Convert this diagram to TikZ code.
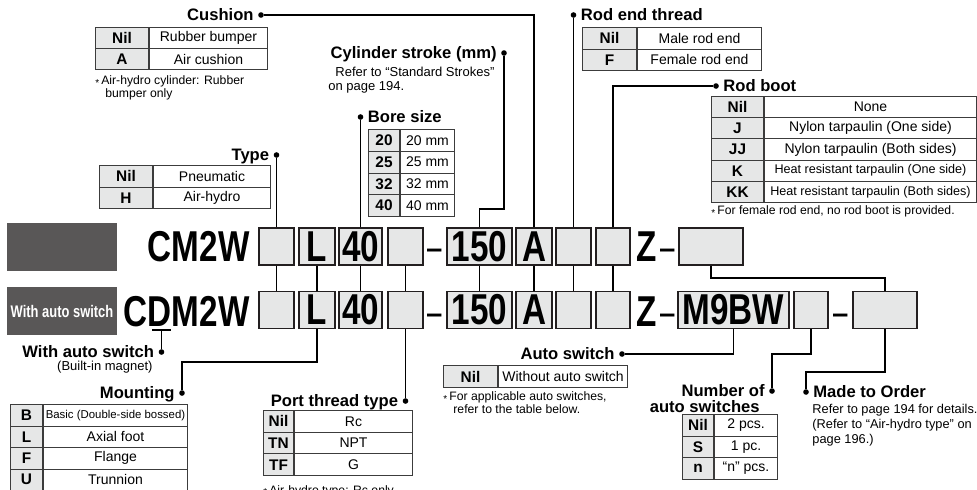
\documentclass[tikz,border=0pt]{standalone}
\usepackage{fontspec}
\setmainfont{Liberation Sans}
\usepackage{graphicx}
\usepackage{tikz}
\usetikzlibrary{positioning}
\definecolor{cellgray}{RGB}{230,231,231}
\definecolor{slotline}{RGB}{35,31,32}
\definecolor{tabline}{RGB}{60,60,60}
\definecolor{blockgray}{RGB}{89,87,87}
\newcommand{\condensed}[1]{\scalebox{0.77}[1]{#1}}
\newcommand{\astx}{\raisebox{-0.3ex}{\fontsize{5}{5}\selectfont *}\,}
\newcommand{\fitsmall}{\fontsize{6.3}{7}\selectfont}
\newcommand{\fittiny}{\fontsize{5.7}{6}\selectfont}

\begin{document}
\begin{tikzpicture}[x=0.5pt, y=-0.5pt,
    slot/.style={draw=slotline, fill=cellgray, line width=0.75pt, inner sep=0,
      minimum height=37*\pxLen, font=\fontsize{21.6}{22}\selectfont\bfseries},
    model/.style={inner sep=0, font=\fontsize{21.6}{22}\selectfont\bfseries},
    dashtxt/.style={inner sep=0, anchor=base west, font=\fontsize{21.6}{22}\selectfont},
    keycell/.style={draw=tabline, fill=cellgray, line width=0.5pt, inner sep=0,
      anchor=north west, font=\fontsize{7.7}{8}\selectfont\bfseries},
    txtcell/.style={draw=tabline, line width=0.5pt, inner sep=0, anchor=west,
      font=\fontsize{7}{8}\selectfont},
    head/.style={inner sep=0, font=\fontsize{8.3}{9}\selectfont\bfseries},
    headL/.style={head, anchor=base east, xshift=-3.5pt, yshift=-2.9pt},
    headR/.style={head, anchor=base west, xshift=3.5pt, yshift=-2.9pt},
    note/.style={inner sep=0, align=left, font=\fontsize{6.1}{6.8}\selectfont},
    refnote/.style={inner sep=0, align=left, font=\fontsize{6.5}{7.3}\selectfont},
    dot/.style={circle, fill=black, inner sep=0, minimum size=2.8pt},
    wire/.style={line width=0.55pt},
    block/.style={fill=blockgray, inner sep=0, minimum width=110*\pxLen,
      minimum height=48*\pxLen}]
    \def\pxLen{0.5pt}
    \useasboundingbox (0,0) rectangle (977,489);

    % Gray blocks at the left
    \node[block] (grayA) at (62,247) {};
    \node[block, text=white, font=\fontsize{8.4}{9}\selectfont\bfseries]
      (grayB) at (62,311) {\condensed{With auto switch}};

    % Model numbers
    \node[model, anchor=base east] (cm) at (250,261) {\condensed{CM2W}};
    \node[model, anchor=base east] (cdm) at (250,326) {\condensed{CDM2W}};

    % Slots shared by both rows
    \foreach \nm/\cx/\bw/\lbl in {typ/276.5/35/{}, mnt/317/36/L, bore/360.5/43/40,
        port/405.5/35/{}, strk/479.5/65/150, cush/534/36/A, rend/573.5/35/{},
        boot/613/34/{}} {
      \node[slot, minimum width=\bw*\pxLen] (\nm1) at (\cx,246.5) {\condensed{\lbl}};
      \node[slot, minimum width=\bw*\pxLen] (\nm2) at (\cx,310) {\condensed{\lbl}};
      \draw[wire] (\nm1.south) -- (\nm2.north);
    }
    \node[slot, minimum width=64*\pxLen] (mto1) at (711,246.5) {};
    \node[slot, minimum width=111*\pxLen] (swt2) at (733.5,310) {\condensed{M9BW}};
    \node[slot, minimum width=34*\pxLen] (num2) at (811,310) {};
    \node[slot, minimum width=64*\pxLen] (mto2) at (885,310) {};

    % Z and dashes
    \node[model, anchor=base west] (zA) at (636,261) {\condensed{Z}};
    \node[model, anchor=base west] (zB) at (636,326) {\condensed{Z}};
    \node[dashtxt] (dashA1) at (427,261) {\scalebox{0.6}[1]{–}};
    \node[dashtxt] (dashB1) at (427,326) {\scalebox{0.6}[1]{–}};
    \node[dashtxt] (dashA2) at (660,261) {\scalebox{0.6}[1]{–}};
    \node[dashtxt] (dashB2) at (660,326) {\scalebox{0.6}[1]{–}};
    \node[dashtxt] (dashB3) at (833,326) {\scalebox{0.6}[1]{–}};

    % Made to order link between rows
    \coordinate (kMid) at (800,278);
    \draw[wire] (mto1.south) |- (kMid) -| (mto2.north);

    % Cushion
    \node[dot] (dCush) at (261,15) {};
    \node[headL] (hCush) at (dCush) {Cushion};
    \draw[wire] (cush1.north) |- (dCush);
    \foreach \ky/\txt [count=\i] in {Nil/Rubber bumper, A/Air cushion} {
      \node[keycell, minimum width=53*\pxLen, minimum height=21*\pxLen]
        (tCushK\i) at (95,{27+21*(\i-1)}) {\ky};
      \node[txtcell, minimum width=118*\pxLen, minimum height=21*\pxLen]
        (tCushT\i) at (tCushK\i.east) {\txt};
    }
    \node[note, anchor=north west] (nCush) at (95,75)
      {\astx Air-hydro cylinder: Rubber\\\hspace*{5pt}bumper only};

    % Type
    \node[dot] (dType) at (276.5,155) {};
    \node[headL] (hType) at (dType) {Type};
    \draw[wire] (typ1.north) -- (dType);
    \foreach \ky/\txt [count=\i] in {Nil/Pneumatic, H/Air-hydro} {
      \node[keycell, minimum width=53*\pxLen, minimum height=21.5*\pxLen]
        (tTypeK\i) at (99,{165+21.5*(\i-1)}) {\ky};
      \node[txtcell, minimum width=117*\pxLen, minimum height=21.5*\pxLen]
        (tTypeT\i) at (tTypeK\i.east) {\txt};
    }

    % Cylinder stroke
    \node[dot] (dStroke) at (504,53) {};
    \node[headL] (hStroke) at (dStroke) {Cylinder stroke (mm)};
    \coordinate (kStroke) at (504,209);
    \draw[wire] (strk1.north) |- (kStroke) -- (dStroke);
    \node[refnote, anchor=north west] (nStroke) at (328,66.5)
      {\hspace*{3.5pt}Refer to “Standard Strokes”\\on page 194.};

    % Bore size
    \node[dot] (dBore) at (360.5,117) {};
    \node[headR] (hBore) at (dBore) {Bore size};
    \draw[wire] (bore1.north) -- (dBore);
    \foreach \ky/\txt [count=\i] in {20/20 mm, 25/25 mm, 32/32 mm, 40/40 mm} {
      \node[keycell, minimum width=31*\pxLen, minimum height=21.75*\pxLen]
        (tBoreK\i) at (368,{129+21.75*(\i-1)}) {\ky};
      \node[txtcell, minimum width=54*\pxLen, minimum height=21.75*\pxLen]
        (tBoreT\i) at (tBoreK\i.east) {\txt};
    }

    % Rod end thread
    \node[dot] (dRend) at (573.5,15) {};
    \node[headR] (hRend) at (dRend) {Rod end thread};
    \draw[wire] (rend1.north) -- (dRend);
    \foreach \ky/\txt [count=\i] in {Nil/Male rod end, F/Female rod end} {
      \node[keycell, minimum width=54*\pxLen, minimum height=21.5*\pxLen]
        (tRendK\i) at (582,{27+21.5*(\i-1)}) {\ky};
      \node[txtcell, minimum width=124*\pxLen, minimum height=21.5*\pxLen]
        (tRendT\i) at (tRendK\i.east) {\txt};
    }

    % Rod boot
    \node[dot] (dBoot) at (716,86) {};
    \node[headR] (hBoot) at (dBoot) {Rod boot};
    \draw[wire] (boot1.north) |- (dBoot);
    \foreach \ky/\txt [count=\i] in {Nil/None, J/Nylon tarpaulin (One side),
        JJ/Nylon tarpaulin (Both sides),
        K/{\fitsmall Heat resistant tarpaulin (One side)},
        KK/{\fitsmall Heat resistant tarpaulin (Both sides)}} {
      \node[keycell, minimum width=52*\pxLen, minimum height=21.2*\pxLen]
        (tBootK\i) at (711,{96+21.2*(\i-1)}) {\ky};
      \node[txtcell, minimum width=212*\pxLen, minimum height=21.2*\pxLen]
        (tBootT\i) at (tBootK\i.east) {\txt};
    }
    \node[note, anchor=north west] (nBoot) at (711,205)
      {\astx For female rod end, no rod boot is provided.};

    % With auto switch (built-in magnet)
    \coordinate (uD1) at (152,330);
    \coordinate (uD2) at (171,330);
    \coordinate (uDm) at (161.5,330);
    \draw[wire] (uD1) -- (uD2);
    \node[dot] (dMag) at (161.5,352) {};
    \node[headL] (hMag) at (dMag) {With auto switch};
    \draw[wire] (uDm) -- (dMag);
    \node[refnote, anchor=base east] (nMag) at (153,370) {(Built-in magnet)};

    % Mounting
    \node[dot] (dMount) at (182,393) {};
    \node[headL] (hMount) at (dMount) {Mounting};
    \coordinate (kMount) at (182,362);
    \draw[wire] (mnt2.south) |- (kMount) -- (dMount);
    \foreach \ky/\txt [count=\i] in {B/{\fittiny Basic (Double-side bossed)},
        L/Axial foot, F/Flange, U/Trunnion} {
      \node[keycell, minimum width=32*\pxLen, minimum height=21.5*\pxLen]
        (tMountK\i) at (10,{404+21.5*(\i-1)}) {\ky};
      \node[txtcell, minimum width=144*\pxLen, minimum height=21.5*\pxLen]
        (tMountT\i) at (tMountK\i.east) {\txt};
    }

    % Port thread type
    \node[dot] (dPort) at (405.5,401) {};
    \node[headL] (hPort) at (dPort) {Port thread type};
    \draw[wire] (port2.south) -- (dPort);
    \foreach \ky/\txt [count=\i] in {Nil/Rc, TN/NPT, TF/G} {
      \node[keycell, minimum width=30*\pxLen, minimum height=21.7*\pxLen]
        (tPortK\i) at (263,{410+21.7*(\i-1)}) {\ky};
      \node[txtcell, minimum width=118*\pxLen, minimum height=21.7*\pxLen]
        (tPortT\i) at (tPortK\i.east) {\txt};
    }
    \node[note, anchor=base west] (nPort) at (263,494)
      {\astx Air-hydro type: Rc only};

    % Auto switch
    \node[dot] (dAuto) at (622,354) {};
    \node[headL] (hAuto) at (dAuto) {Auto switch};
    \draw[wire] (swt2.south) |- (dAuto);
    \node[keycell, minimum width=54*\pxLen, minimum height=22*\pxLen]
      (tAutoK1) at (443,365) {Nil};
    \node[txtcell, minimum width=129*\pxLen, minimum height=22*\pxLen]
      (tAutoT1) at (tAutoK1.east) {Without auto switch};
    \node[note, anchor=north west] (nAuto) at (443,391)
      {\astx For applicable auto switches,\\\hspace*{5pt}refer to the table below.};

    % Number of auto switches
    \node[dot] (dNum) at (772,391) {};
    \node[headL] (hNum) at (dNum) {Number of};
    \node[head, anchor=base east] (hNum2) at ([xshift=-2.5pt, yshift=-8pt]hNum.base east)
      {auto switches};
    \coordinate (kNum) at (772,354);
    \draw[wire] (num2.south) |- (kNum) -- (dNum);
    \foreach \ky/\txt [count=\i] in {Nil/2 pcs., S/1 pc., n/“n” pcs.} {
      \node[keycell, minimum width=31*\pxLen, minimum height=21.5*\pxLen]
        (tNumK\i) at (682,{414+21.5*(\i-1)}) {\ky};
      \node[txtcell, minimum width=63*\pxLen, minimum height=21.5*\pxLen]
        (tNumT\i) at (tNumK\i.east) {\txt};
    }

    % Made to Order
    \node[dot] (dOrder) at (806,392) {};
    \node[headR] (hOrder) at (dOrder) {Made to Order};
    \coordinate (kOrder) at (806,372);
    \draw[wire] (mto2.south) |- (kOrder) -- (dOrder);
    \node[note, anchor=north west, font=\fontsize{6.4}{7.5}\selectfont] (nOrder) at (812,404)
      {Refer to page 194 for details.\\(Refer to “Air-hydro type” on\\page 196.)};
\end{tikzpicture}
\end{document}
